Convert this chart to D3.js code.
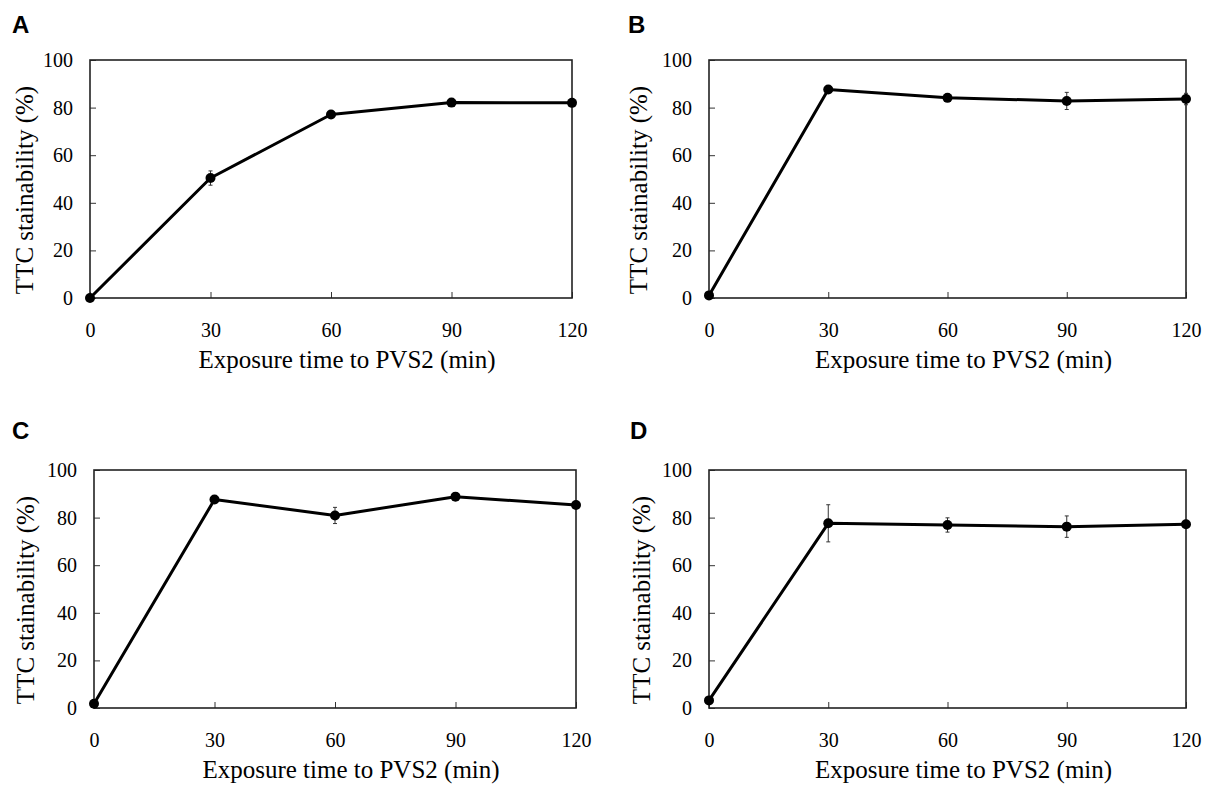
<!DOCTYPE html>
<html>
<head>
<meta charset="utf-8">
<script src="https://cdn.jsdelivr.net/npm/d3@7"></script>
<style>
  body { margin: 0; background: #fff; }
  svg text { fill: #000; }
</style>
</head>
<body>
<script>
// exposure times (min) and tick labels
var times = [0, 30, 60, 90, 120];
var xTicks = [0, 30, 60, 90, 120];
var yTicks = [0, 20, 40, 60, 80, 100];
var panelNames = ["A", "B", "C", "D"];

// TTC stainability (%) means and error bars per panel
var meanA = [0, 50.4, 77.1, 82.1, 82.0];
var errA  = [0, 3.0, 1.0, 1.0, 0.6];
var meanB = [1.1, 87.6, 84.1, 82.8, 83.6];
var errB  = [0, 0.8, 1.0, 3.6, 2.4];
var meanC = [1.8, 87.6, 80.9, 88.8, 85.3];
var errC  = [0, 0.8, 3.4, 1.5, 0.8];
var meanD = [3.2, 77.6, 76.9, 76.2, 77.2];
var errD  = [0, 7.8, 3.0, 4.5, 1.0];

var xTitle = "Exposure time to PVS2 (min)";
var yTitle = "TTC stainability (%)";

var width = 1206, height = 785;

var svg = d3.select("body").append("svg")
    .attr("width", width)
    .attr("height", height);

// plot boxes in page pixels
var panels = [
  {name: panelNames[0], mean: meanA, err: errA, left: 90,  right: 572,  top: 60,  bottom: 298, letterX: 12,  letterY: 33,  titleOff: 65},
  {name: panelNames[1], mean: meanB, err: errB, left: 709, right: 1186, top: 60,  bottom: 298, letterX: 628, letterY: 33,  titleOff: 70},
  {name: panelNames[2], mean: meanC, err: errC, left: 94,  right: 576,  top: 470, bottom: 708, letterX: 12,  letterY: 439, titleOff: 68},
  {name: panelNames[3], mean: meanD, err: errD, left: 709, right: 1186, top: 470, bottom: 708, letterX: 630, letterY: 439, titleOff: 67}
];

var serif = "'Liberation Serif', 'Times New Roman', serif";

panels.forEach(function(p) {
  var x = d3.scaleLinear().domain([0, 120]).range([p.left, p.right]);
  var y = d3.scaleLinear().domain([0, 100]).range([p.bottom, p.top]);

  var g = svg.append("g");

  // panel letter
  g.append("text")
    .attr("x", p.letterX)
    .attr("y", p.letterY)
    .style("font-family", "'Liberation Sans', Arial, sans-serif")
    .style("font-weight", "bold")
    .style("font-size", "24px")
    .text(p.name);

  // y axis, ticks pointing inward
  var ya = g.append("g")
    .attr("transform", "translate(" + p.left + ",0)")
    .call(d3.axisLeft(y).tickValues(yTicks).tickSize(-6).tickSizeOuter(0).tickPadding(17));
  ya.selectAll("text").style("font-family", serif).style("font-size", "20px");

  // x axis, ticks pointing inward
  var xa = g.append("g")
    .attr("transform", "translate(0," + p.bottom + ")")
    .call(d3.axisBottom(x).tickValues(xTicks).tickSize(-6).tickSizeOuter(0).tickPadding(25));
  xa.selectAll("text").style("font-family", serif).style("font-size", "20px");

  svg.selectAll(".domain").remove();
  g.selectAll(".tick line").attr("stroke", "#333").attr("stroke-width", 1);

  // frame
  g.append("rect")
    .attr("x", p.left).attr("y", p.top)
    .attr("width", p.right - p.left).attr("height", p.bottom - p.top)
    .attr("fill", "none").attr("stroke", "#222").attr("stroke-width", 1.6);

  // titles
  g.append("text")
    .attr("x", (p.left + p.right) / 2 + 16)
    .attr("y", p.bottom + 70)
    .attr("text-anchor", "middle")
    .style("font-family", serif)
    .style("font-size", "25px")
    .text(xTitle);

  g.append("text")
    .attr("transform", "translate(" + (p.left - p.titleOff + 8) + "," + ((p.top + p.bottom) / 2 + 11) + ") rotate(-90)")
    .attr("text-anchor", "middle")
    .style("font-family", serif)
    .style("font-size", "25px")
    .text(yTitle);

  var pts = times.map(function(t, i) { return {t: t, v: p.mean[i], e: p.err[i]}; });

  // error bars
  var eb = g.selectAll(".eb").data(pts.filter(function(d) { return d.e > 0; })).enter().append("g");
  eb.append("line")
    .attr("x1", function(d) { return x(d.t); }).attr("x2", function(d) { return x(d.t); })
    .attr("y1", function(d) { return y(d.v - d.e); }).attr("y2", function(d) { return y(d.v + d.e); })
    .attr("stroke", "#333").attr("stroke-width", 1);
  [-1, 1].forEach(function(s) {
    eb.append("line")
      .attr("x1", function(d) { return x(d.t) - 2; }).attr("x2", function(d) { return x(d.t) + 2; })
      .attr("y1", function(d) { return y(d.v + s * d.e); }).attr("y2", function(d) { return y(d.v + s * d.e); })
      .attr("stroke", "#333").attr("stroke-width", 1);
  });

  // line
  var line = d3.line().x(function(d) { return x(d.t); }).y(function(d) { return y(d.v); });
  g.append("path")
    .datum(pts)
    .attr("d", line)
    .attr("fill", "none")
    .attr("stroke", "#000")
    .attr("stroke-width", 3)
    .attr("stroke-linejoin", "round");

  // markers
  g.selectAll(".pt").data(pts).enter().append("circle")
    .attr("cx", function(d) { return x(d.t); })
    .attr("cy", function(d) { return y(d.v); })
    .attr("r", 5)
    .attr("fill", "#000");
});
</script>
</body>
</html>
